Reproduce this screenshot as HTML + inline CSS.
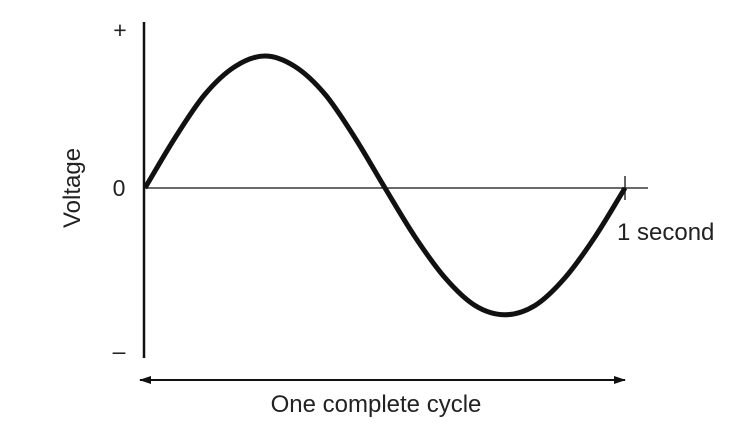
<!DOCTYPE html>
<html><head><meta charset="utf-8"><style>
html,body{margin:0;padding:0;background:#fff;}
svg{display:block;font-family:"Liberation Sans",Arial,sans-serif;}
</style></head><body>
<svg id="chart" width="753" height="423" viewBox="0 0 753 423">
<defs>
<marker id="ah" markerWidth="12" markerHeight="8" refX="11" refY="4" orient="auto-start-reverse" markerUnits="userSpaceOnUse">
<path d="M0,0 L12,4 L0,8 Z" fill="#111"/></marker>
</defs>
<line x1="144" y1="22" x2="144" y2="358" stroke="#111" stroke-width="2.5"/>
<line x1="144" y1="188" x2="648" y2="188" stroke="#111" stroke-width="1.3"/>
<line x1="625" y1="176" x2="625" y2="200" stroke="#111" stroke-width="1.3"/>
<text x="120" y="38" font-size="23" text-anchor="middle" fill="#222">+</text>
<text x="119" y="196" font-size="23" text-anchor="middle" fill="#222">0</text>
<text x="119" y="359" font-size="23" text-anchor="middle" fill="#222">–</text>
<text transform="translate(80,188) rotate(-90)" font-size="24" text-anchor="middle" fill="#222">Voltage</text>
<text x="617" y="240" font-size="24" fill="#222">1 second</text>
<line x1="140" y1="380" x2="625" y2="380" stroke="#111" stroke-width="2" marker-start="url(#ah)" marker-end="url(#ah)"/>
<text x="376" y="412" font-size="24" text-anchor="middle" fill="#222">One complete cycle</text>
</svg>
<script>
const phases=[0,0.0625,0.125,0.1875,0.25,0.3125,0.375,0.4375,0.5,0.5625,0.625,0.6875,0.75,0.8125,0.875,0.9375,1];
const voltages=[0,0.38,0.71,0.92,1.0,0.92,0.71,0.38,0,-0.37,-0.68,-0.89,-0.96,-0.89,-0.68,-0.37,0];
const xs=p=>145+p*480;
const ys=v=>188-v*132;
const pts=phases.map((p,i)=>[xs(p),ys(voltages[i])]);
let d=`M${pts[0][0]},${pts[0][1]}`;
for(let i=0;i<pts.length-1;i++){
  const p0=i>0?pts[i-1]:[2*pts[0][0]-pts[1][0],2*pts[0][1]-pts[1][1]],p1=pts[i],p2=pts[i+1];
  const p3=i+2<pts.length?pts[i+2]:[2*p2[0]-p1[0],2*p2[1]-p1[1]];
  const c1=[p1[0]+(p2[0]-p0[0])/6,p1[1]+(p2[1]-p0[1])/6];
  const c2=[p2[0]-(p3[0]-p1[0])/6,p2[1]-(p3[1]-p1[1])/6];
  d+=` C${c1[0]},${c1[1]} ${c2[0]},${c2[1]} ${p2[0]},${p2[1]}`;
}
const path=document.createElementNS('http://www.w3.org/2000/svg','path');
path.setAttribute('d',d);
path.setAttribute('fill','none');
path.setAttribute('stroke','#111');
path.setAttribute('stroke-width','5');


document.getElementById('chart').appendChild(path);
</script>
</body></html>
